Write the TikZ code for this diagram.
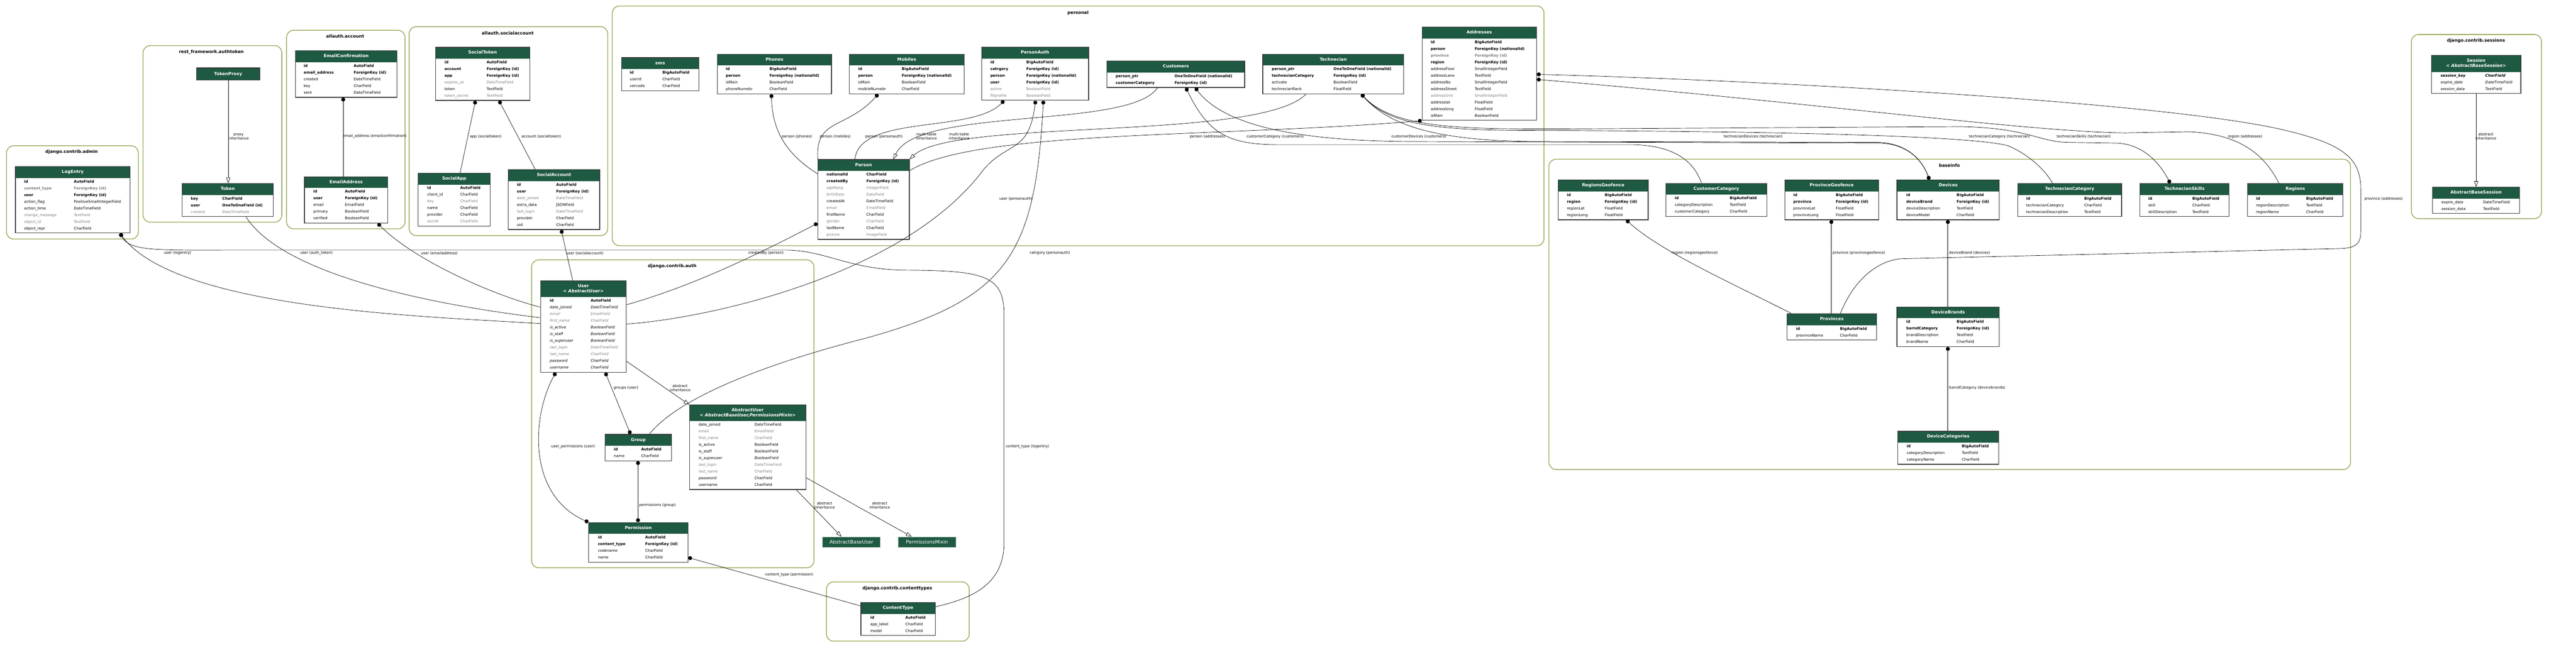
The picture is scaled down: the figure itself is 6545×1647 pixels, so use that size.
\documentclass[tikz,border=0pt]{standalone}
\usepackage{fontspec}
\setmainfont{DejaVu Sans}
\usetikzlibrary{arrows.meta}

\definecolor{hdr}{HTML}{1E5941}
\definecolor{clus}{RGB}{150,172,90}
\definecolor{fgray}{HTML}{808080}
\definecolor{boxgray}{HTML}{3A3A3A}

\newlength\mdw \newlength\nof \newlength\tof
\newcommand\fsn{}
\newcommand\fsb{\bfseries}
\newcommand\fsg{\color{fgray}}
\newcommand\fsgb{\bfseries\color{fgray}}
\newcommand\fsi{\itshape}
\newcommand\fsig{\itshape\color{fgray}}
\newcommand\fsbi{\bfseries\itshape}
\newcommand\hdrfont{\color{white}\bfseries\fontsize{11}{13}\selectfont}
% one field row: style, name, type
\newcommand\fr[3]{\hbox to\mdw{\vrule width0pt height12.3pt depth4.7pt\hskip\nof\rlap{\csname fs#1\endcsname #2}\hskip\tof\rlap{\csname fs#1\endcsname #3}\hss}}
% model box: name, x, y, width, name col, type col, header height, header, rows
\newcommand\mdl[9]{%
  \def\hdrh{#7}%
  \node[mbox] (#1) at (#2,#3) {\mdw=#4pt\relax\nof=#5pt\relax\tof=\dimexpr#6pt-#5pt\relax
    \vbox{\offinterlineskip\hsize=\mdw
      \vbox to #7pt{\vss\hbox to\mdw{\hss\hdrfont\begin{tabular}{@{}c@{}}#8\end{tabular}\hss}\vss}%
      #9\vskip4pt}};%
}

\begin{document}
\begin{tikzpicture}[x=1pt,y=-1pt,font=\fontsize{9.5}{11}\selectfont]
    \tikzstyle{cluster}=[draw=clus,line width=2pt,rounded corners=18pt]
    \tikzstyle{ctitle}=[font=\bfseries\fontsize{11}{13}\selectfont,inner sep=1pt]
    \tikzstyle{mbox}=[draw=boxgray,line width=1.6pt,fill=white,inner sep=0pt,anchor=north west,
        path picture={\fill[hdr] (path picture bounding box.north west) rectangle ([yshift=-\hdrh pt]path picture bounding box.north east);}]
    \tikzstyle{hdronly}=[draw=boxgray,line width=1.6pt,fill=hdr,text=white,inner sep=0pt,anchor=north west,
        font=\bfseries\fontsize{11}{13}\selectfont]
    \tikzstyle{absnode}=[draw=hdr!45!white,line width=1pt,fill=hdr,text=white,inner sep=0pt,anchor=north west,
        minimum width=146.6pt,minimum height=27.2pt,font=\fontsize{12.5}{14}\selectfont]
    \tikzstyle{elabel}=[font=\fontsize{9.3}{10.6}\selectfont,align=center,inner sep=1pt]
    \tikzstyle{rel}=[draw=black,line width=0.9pt]
    \tikzstyle{fk}=[rel,{Circle[length=10pt]}-]
    \tikzstyle{mm}=[rel,{Circle[length=10pt]}-{Circle[length=10pt]}]
    \tikzstyle{inh}=[rel,-{Triangle[open,length=14pt,width=10pt]}]
    \tikzstyle{oo}=[rel]

    \useasboundingbox (0,0) rectangle (6545,1647);

    % apps
    \draw[cluster] (16.6,370.7) rectangle (351.5,608);
    \draw[cluster] (363.5,116) rectangle (716,565);
    \draw[cluster] (728,77) rectangle (1029,582);
    \draw[cluster] (1039.6,67.8) rectangle (1544,599.4);
    \draw[cluster] (1555.6,15.3) rectangle (3923,624.8);
    \draw[cluster] (1350.7,661) rectangle (2068,1444);
    \draw[cluster] (2099.8,1480) rectangle (2462.5,1630.6);
    \draw[cluster] (3935.4,405) rectangle (5972,1194);
    \draw[cluster] (6126.7,87.7) rectangle (6457.3,556);

    \node[ctitle] (t-admin) at (182,387) {django.contrib.admin};
    \node[ctitle] (t-authtoken) at (537,132.5) {rest\_framework.authtoken};
    \node[ctitle] (t-account) at (877,92.5) {allauth.account};
    \node[ctitle] (t-social) at (1290,84) {allauth.socialaccount};
    \node[ctitle] (t-personal) at (2739,33) {personal};
    \node[ctitle] (t-auth) at (1708,677) {django.contrib.auth};
    \node[ctitle] (t-ctypes) at (2280,1496.5) {django.contrib.contenttypes};
    \node[ctitle] (t-baseinfo) at (4953,421) {baseinfo};
    \node[ctitle] (t-sessions) at (6291,104) {django.contrib.sessions};

    % models
    \mdl{logentry}{38.5}{423}{291}{22}{148.5}{29}{LogEntry}{\fr{b}{id}{AutoField}\fr{gb}{content\_type}{ForeignKey (id)}\fr{b}{user}{ForeignKey (id)}\fr{n}{action\_flag}{PositiveSmallIntegerField}\fr{n}{action\_time}{DateTimeField}\fr{g}{change\_message}{TextField}\fr{g}{object\_id}{TextField}\fr{n}{object\_repr}{CharField}}
    \node[hdronly,minimum width=160pt,minimum height=31pt] (tokenproxy) at (499,172) {TokenProxy};
    \mdl{token}{462}{466}{232}{22}{102}{29}{Token}{\fr{b}{key}{CharField}\fr{b}{user}{OneToOneField (id)}\fr{g}{created}{DateTimeField}}
    \mdl{emailconf}{749.5}{128.6}{258.5}{21.5}{148.5}{29}{EmailConfirmation}{\fr{b}{id}{AutoField}\fr{b}{email\_address}{ForeignKey (id)}\fr{n}{created}{DateTimeField}\fr{n}{key}{CharField}\fr{n}{sent}{DateTimeField}}
    \mdl{emailaddr}{772.7}{448.6}{212}{22.5}{103}{29}{EmailAddress}{\fr{b}{id}{AutoField}\fr{b}{user}{ForeignKey (id)}\fr{n}{email}{EmailField}\fr{n}{primary}{BooleanField}\fr{n}{verified}{BooleanField}}
    \mdl{socialtoken}{1105.7}{119.5}{239.3}{23}{130}{29}{SocialToken}{\fr{b}{id}{AutoField}\fr{b}{account}{ForeignKey (id)}\fr{b}{app}{ForeignKey (id)}\fr{g}{expires\_at}{DateTimeField}\fr{n}{token}{TextField}\fr{g}{token\_secret}{TextField}}
    \mdl{socialapp}{1061.8}{439.6}{183.2}{22.8}{106.8}{29}{SocialApp}{\fr{b}{id}{AutoField}\fr{n}{client\_id}{CharField}\fr{g}{key}{CharField}\fr{n}{name}{CharField}\fr{n}{provider}{CharField}\fr{g}{secret}{CharField}}
    \mdl{socialacc}{1290.7}{431}{232.3}{21.8}{121.8}{29}{SocialAccount}{\fr{b}{id}{AutoField}\fr{b}{user}{ForeignKey (id)}\fr{g}{date\_joined}{DateTimeField}\fr{n}{extra\_data}{JSONField}\fr{g}{last\_login}{DateTimeField}\fr{n}{provider}{CharField}\fr{n}{uid}{CharField}}
    \mdl{sms}{1578}{145.8}{197}{21.4}{104.3}{29}{sms}{\fr{b}{id}{BigAutoField}\fr{n}{userid}{CharField}\fr{n}{vercode}{CharField}}
    \mdl{phones}{1822}{137}{290}{21.4}{132.2}{29}{Phones}{\fr{b}{id}{BigAutoField}\fr{b}{person}{ForeignKey (nationalId)}\fr{n}{isMain}{BooleanField}\fr{n}{phoneNumebr}{CharField}}
    \mdl{mobiles}{2157.5}{137}{291}{22.3}{133}{29}{Mobiles}{\fr{b}{id}{BigAutoField}\fr{b}{person}{ForeignKey (nationalId)}\fr{n}{isMain}{BooleanField}\fr{n}{mobileNumebr}{CharField}}
    \mdl{personauth}{2493}{119.3}{272}{22.4}{114}{29}{PersonAuth}{\fr{b}{id}{BigAutoField}\fr{b}{catrgory}{ForeignKey (id)}\fr{b}{person}{ForeignKey (nationalId)}\fr{b}{user}{ForeignKey (id)}\fr{g}{active}{BooleanField}\fr{g}{fillprofile}{BooleanField}}
    \mdl{person}{2077}{405}{232.7}{22.3}{123.5}{29}{Person}{\fr{b}{nationalId}{CharField}\fr{b}{createdBy}{ForeignKey (id)}\fr{g}{ageRang}{IntegerField}\fr{g}{birthDate}{DateField}\fr{n}{createdAt}{DateTimeField}\fr{g}{email}{EmailField}\fr{n}{firstName}{CharField}\fr{g}{gender}{CharField}\fr{n}{lastName}{CharField}\fr{g}{picture}{ImageField}}
    \mdl{customers}{2811.8}{154.7}{350}{22.2}{171.6}{29}{Customers}{\fr{b}{person\_ptr}{OneToOneField (nationalId)}\fr{b}{customerCategory}{ForeignKey (id)}}
    \mdl{technecian}{3207.6}{137}{358}{22.9}{179.8}{29}{Technecian}{\fr{b}{person\_ptr}{OneToOneField (nationalId)}\fr{b}{technecianCategory}{ForeignKey (id)}\fr{n}{activate}{BooleanField}\fr{n}{technecianRank}{FloatField}}
    \mdl{addresses}{3612.3}{68.3}{290.7}{22.2}{133.9}{29}{Addresses}{\fr{b}{id}{BigAutoField}\fr{b}{person}{ForeignKey (nationalId)}\fr{gb}{province}{ForeignKey (id)}\fr{b}{region}{ForeignKey (id)}\fr{n}{addressFloor}{SmallIntegerField}\fr{n}{addressLane}{TextField}\fr{n}{addressNo}{SmallIntegerField}\fr{n}{addressStreet}{TextField}\fr{g}{addressUnit}{SmallIntegerField}\fr{n}{addresslat}{FloatField}\fr{n}{addresslong}{FloatField}\fr{n}{isMain}{BooleanField}}
    \mdl{user}{1372.5}{713}{218}{23.7}{127.5}{42}{User\\\textit{<~AbstractUser>}}{\fr{b}{id}{AutoField}\fr{i}{date\_joined}{DateTimeField}\fr{ig}{email}{EmailField}\fr{ig}{first\_name}{CharField}\fr{i}{is\_active}{BooleanField}\fr{i}{is\_staff}{BooleanField}\fr{i}{is\_superuser}{BooleanField}\fr{ig}{last\_login}{DateTimeField}\fr{ig}{last\_name}{CharField}\fr{i}{password}{CharField}\fr{i}{username}{CharField}}
    \mdl{abstractuser}{1751}{1029}{295.7}{23.3}{165.3}{41}{AbstractUser\\\textit{<~AbstractBaseUser,PermissionsMixin>}}{\fr{n}{date\_joined}{DateTimeField}\fr{g}{email}{EmailField}\fr{g}{first\_name}{CharField}\fr{n}{is\_active}{BooleanField}\fr{n}{is\_staff}{BooleanField}\fr{i}{is\_superuser}{BooleanField}\fr{ig}{last\_login}{DateTimeField}\fr{g}{last\_name}{CharField}\fr{i}{password}{CharField}\fr{n}{username}{CharField}}
    \mdl{group}{1536.8}{1104}{168.7}{22.3}{91.6}{29}{Group}{\fr{b}{id}{AutoField}\fr{n}{name}{CharField}}
    \mdl{permission}{1495}{1328}{252}{23.4}{143.6}{29}{Permission}{\fr{b}{id}{AutoField}\fr{b}{content\_type}{ForeignKey (id)}\fr{n}{codename}{CharField}\fr{n}{name}{CharField}}
    \node[absnode] (absbaseuser) at (2089.4,1364.8) {AbstractBaseUser};
    \node[absnode] (permmixin) at (2281.5,1364.8) {PermissionsMixin};
    \mdl{contenttype}{2186.6}{1531.5}{188.7}{24}{113}{29}{ContentType}{\fr{b}{id}{AutoField}\fr{n}{app\_label}{CharField}\fr{n}{model}{CharField}}
    \mdl{regionsgeo}{3958.6}{457}{228}{21.7}{117.8}{29}{RegionsGeofence}{\fr{b}{id}{BigAutoField}\fr{b}{region}{ForeignKey (id)}\fr{n}{regionLat}{FloatField}\fr{n}{regionLong}{FloatField}}
    \mdl{custcat}{4232}{465.4}{256}{22.6}{162}{29}{CustomerCategory}{\fr{b}{id}{BigAutoField}\fr{n}{categoryDescription}{TextField}\fr{n}{customerCategory}{CharField}}
    \mdl{provincegeo}{4533.8}{457}{238.5}{21.8}{129.8}{29}{ProvinceGeofence}{\fr{b}{id}{BigAutoField}\fr{b}{province}{ForeignKey (id)}\fr{n}{provinceLat}{FloatField}\fr{n}{provinceLong}{FloatField}}
    \mdl{devices}{4819}{457}{260}{23.7}{151.7}{29}{Devices}{\fr{b}{id}{BigAutoField}\fr{b}{deviceBrand}{ForeignKey (id)}\fr{n}{deviceDescription}{TextField}\fr{n}{deviceModel}{CharField}}
    \mdl{techcat}{5126}{466}{263.5}{21.4}{169}{29}{TechnecianCategory}{\fr{b}{id}{BigAutoField}\fr{n}{technecianCategory}{CharField}\fr{n}{technecianDescription}{TextField}}
    \mdl{techskills}{5436}{466}{227}{21.6}{133.5}{29}{TechnecianSkills}{\fr{b}{id}{BigAutoField}\fr{n}{skill}{CharField}\fr{n}{skillDescription}{TextField}}
    \mdl{regions}{5710}{466}{242}{21.3}{148.4}{29}{Regions}{\fr{b}{id}{BigAutoField}\fr{n}{regionDescription}{TextField}\fr{n}{regionName}{CharField}}
    \mdl{provinces}{4539.4}{797}{228}{23}{134.6}{29}{Provinces}{\fr{b}{id}{BigAutoField}\fr{n}{provinceName}{CharField}}
    \mdl{devbrands}{4819}{779.7}{260}{23.7}{151.7}{29}{DeviceBrands}{\fr{b}{id}{BigAutoField}\fr{b}{barndCategory}{ForeignKey (id)}\fr{n}{brandDescription}{TextField}\fr{n}{brandName}{CharField}}
    \mdl{devcats}{4821}{1096}{256}{22.7}{162.7}{29}{DeviceCategories}{\fr{b}{id}{BigAutoField}\fr{n}{categoryDescription}{TextField}\fr{n}{categoryName}{CharField}}
    \mdl{session}{6177}{140}{227}{23.3}{136.7}{42}{Session\\\textit{<~AbstractBaseSession>}}{\fr{bi}{session\_key}{CharField}\fr{i}{expire\_date}{DateTimeField}\fr{i}{session\_data}{TextField}}
    \mdl{absbasesession}{6179.7}{475}{221.3}{22.6}{128.6}{29}{AbstractBaseSession}{\fr{n}{expire\_date}{DateTimeField}\fr{n}{session\_data}{TextField}}

    % relations
    \draw[inh] (tokenproxy.south) -- (tokenproxy.south |- token.north);
    \draw[fk] (872,0 |- emailconf.south) -- (872,0 |- emailaddr.north);
    \draw[fk] (1208,0 |- socialtoken.south) -- (1169,0 |- socialapp.north);
    \draw[fk] (1268,0 |- socialtoken.south) -- (1360,0 |- socialacc.north);
    \draw[fk] (1960,0 |- phones.south) .. controls (1962,330) and (1995,390) .. (person.west |- 0,442);
    \draw[fk] (2231,0 |- mobiles.south) .. controls (2150,330) and (2070,300) .. (2078,0 |- person.north);
    \draw[fk] (2551,0 |- personauth.south) .. controls (2470,340) and (2185,290) .. (2172,0 |- person.north);
    \draw[inh] (2941,0 |- customers.south) .. controls (2870,330) and (2330,270) .. (2270,0 |- person.north);
    \draw[inh] (3318,0 |- technecian.south) .. controls (3200,360) and (2420,300) .. (person.north east);
    \draw[fk] (addresses.south west) .. controls (3100,350) and (2480,330) .. (person.east |- 0,434);
    \draw[fk] (3013,0 |- customers.south) .. controls (3070,340) and (3120,368) .. (3250,368) -- (4150,368) .. controls (4240,370) and (4300,400) .. (4323,0 |- custcat.north);
    \draw[mm] (3037,0 |- customers.south) .. controls (3110,320) and (3300,360) .. (3600,360) -- (4780,364) .. controls (4850,368) and (4885,410) .. (4902,0 |- devices.north);
    \draw[mm] (3459,0 |- technecian.south) .. controls (3530,320) and (3650,358) .. (3900,360) -- (4775,362) .. controls (4850,366) and (4885,410) .. (4902,0 |- devices.north);
    \draw[fk] (3459,0 |- technecian.south) .. controls (3540,330) and (3700,332) .. (3950,332) .. controls (4500,334) and (5000,345) .. (5100,370) .. controls (5150,390) and (5195,430) .. (5215,0 |- techcat.north);
    \draw[mm] (3459,0 |- technecian.south) .. controls (3540,325) and (3700,328) .. (3950,328) -- (4980,322) .. controls (5150,325) and (5180,360) .. (5250,362) -- (5380,364) .. controls (5450,368) and (5490,420) .. (5514,0 |- techskills.north);
    \draw[fk] (addresses.east |- 0,189) .. controls (4500,205) and (5500,260) .. (5800,330) .. controls (5950,365) and (5998,400) .. (5998,480) -- (5998,590) .. controls (5998,620) and (5985,630) .. (5950,632) -- (4830,658) .. controls (4780,662) and (4715,700) .. (4676,0 |- provinces.north);
    \draw[fk] (addresses.east |- 0,202) .. controls (4600,260) and (5150,335) .. (5400,338) -- (5560,335) .. controls (5680,340) and (5750,385) .. (5790,0 |- regions.north);
    \draw[fk] (305,0 |- logentry.south) .. controls (450,790) and (1100,805) .. (user.west |- 0,823);
    \draw[fk] (305,0 |- logentry.south) .. controls (330,640) and (400,636) .. (600,636) -- (2000,636) .. controls (2100,638) and (2160,686) .. (2300,687) .. controls (2500,688) and (2551,700) .. (2551,800) -- (2551,1380) .. controls (2551,1480) and (2480,1520) .. (contenttype.east |- 0,1543);
    \draw[oo] (625,0 |- token.south) .. controls (720,700) and (1100,775) .. (user.west |- 0,808);
    \draw[fk] (960,0 |- emailaddr.south) .. controls (1050,660) and (1250,750) .. (user.west |- 0,781);
    \draw[fk] (1426,0 |- socialacc.south) -- (1455,0 |- user.north);
    \draw[fk] (person.west |- 0,568) .. controls (1900,660) and (1750,730) .. (user.east |- 0,775);
    \draw[fk] (2631,0 |- personauth.south) .. controls (2615,390) and (2560,360) .. (2500,430) .. controls (2300,700) and (1800,810) .. (user.east |- 0,824);
    \draw[fk] (2651,0 |- personauth.south) .. controls (2630,650) and (2560,760) .. (2200,860) .. controls (1850,950) and (1700,1040) .. (1650,0 |- group.north);
    \draw[mm] (1538,0 |- user.south) -- (1602,0 |- group.north);
    \draw[mm] (1412,0 |- user.south) .. controls (1350,1060) and (1340,1260) .. (permission.north west);
    \draw[mm] (1621,0 |- group.south) -- (1621,0 |- permission.north);
    \draw[fk] (permission.east |- 0,1418) -- (contenttype.west |- 0,1541);
    \draw[inh] (user.east |- 0,919) -- (abstractuser.north west);
    \draw[inh] (2023,0 |- abstractuser.south) -- (2138,0 |- absbaseuser.north);
    \draw[inh] (abstractuser.east |- 0,1215) -- (2316,0 |- permmixin.north);
    \draw[inh] (session.south) -- (session.south |- absbasesession.north);
    \draw[fk] (4132,0 |- regionsgeo.south) .. controls (4220,640) and (4400,720) .. (4551,0 |- provinces.north);
    \draw[fk] (4653,0 |- provincegeo.south) -- (4653,0 |- provinces.north);
    \draw[fk] (4949,0 |- devices.south) -- (4949,0 |- devbrands.north);
    \draw[fk] (4949,0 |- devbrands.south) -- (4949,0 |- devcats.north);

    % relation labels
    \node[elabel] (lb-proxy) at (606,348) {proxy\\inheritance};
    \node[elabel] (lb-emailconf) at (952,347) {email\_address (emailconfirmation)};
    \node[elabel] (lb-app) at (1234,347) {app (socialtoken)};
    \node[elabel] (lb-account) at (1375,347) {account (socialtoken)};
    \node[elabel] (lb-phones) at (2025,347) {person (phones)};
    \node[elabel] (lb-mobiles) at (2122,347) {person (mobiles)};
    \node[elabel] (lb-personauth) at (2246,347) {person (personauth)};
    \node[elabel] (lb-multi1) at (2354,347) {multi-table\\inheritance};
    \node[elabel] (lb-multi2) at (2437,347) {multi-table\\inheritance};
    \node[elabel] (lb-addrperson) at (3068,347) {person (addresses)};
    \node[elabel] (lb-custcat) at (3240,347) {customerCategory (customers)};
    \node[elabel] (lb-custdev) at (3605,347) {customerDevices (customers)};
    \node[elabel] (lb-techdev) at (4454,347) {technecianDevices (technecian)};
    \node[elabel] (lb-techcat) at (5080,347) {technecianCategory (technecian)};
    \node[elabel] (lb-techskill) at (5294,347) {technecianSkills (technecian)};
    \node[elabel] (lb-addrregion) at (5704,347) {region (addresses)};
    \node[elabel] (lb-addrprov) at (6056,506) {province (addresses)};
    \node[elabel] (lb-loguser) at (451,644) {user (logentry)};
    \node[elabel] (lb-tokuser) at (804,644) {user (auth\_token)};
    \node[elabel] (lb-emailuser) at (1116,644) {user (emailaddress)};
    \node[elabel] (lb-socuser) at (1486,644) {user (socialaccount)};
    \node[elabel] (lb-created) at (1946,644) {createdBy (person)};
    \node[elabel,anchor=west] (lb-catrgory) at (2615,644) {catrgory (personauth)};
    \node[elabel] (lb-pauser) at (2581,506) {user (personauth)};
    \node[elabel,anchor=west] (lb-groups) at (1558,987) {groups (user)};
    \node[elabel] (lb-absuser) at (1728,987) {abstract\\inheritance};
    \node[elabel] (lb-userperm) at (1456,1136) {user\_permissions (user)};
    \node[elabel,anchor=west] (lb-groupperm) at (1623,1285) {permissions (group)};
    \node[elabel] (lb-permct) at (2005,1462) {content\_type (permission)};
    \node[elabel] (lb-absbase) at (2095,1285) {abstract\\inheritance};
    \node[elabel] (lb-permmix) at (2235,1285) {abstract\\inheritance};
    \node[elabel,anchor=west] (lb-logct) at (2554,1136) {content\_type (logentry)};
    \node[elabel] (lb-regiongeo) at (4306,643) {region (regionsgeofence)};
    \node[elabel,anchor=west] (lb-provgeo) at (4655,643) {province (provincegeofence)};
    \node[elabel,anchor=west] (lb-devbrand) at (4951,643) {deviceBrand (devices)};
    \node[elabel,anchor=west] (lb-brandcat) at (4951,986) {barndCategory (devicebrands)};
    \node[elabel] (lb-session) at (6316,347) {abstract\\inheritance};
\end{tikzpicture}
\end{document}
